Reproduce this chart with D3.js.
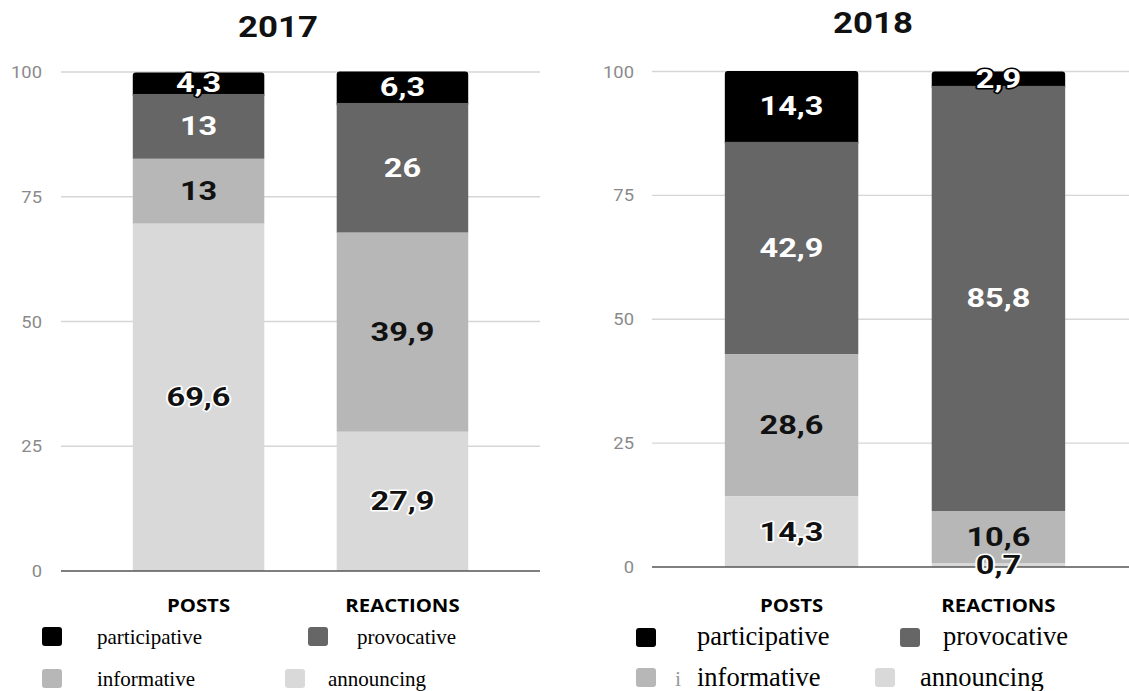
<!DOCTYPE html>
<html>
<head>
<meta charset="utf-8">
<script src="https://cdn.jsdelivr.net/npm/d3@7"></script>
<style>
  html, body { margin: 0; padding: 0; background: #fff; }
  svg { display: block; }
</style>
</head>
<body>
<svg id="chart" width="1129" height="691"></svg>
<script>
// ---------- DATA ----------
const years = ["2017", "2018"];
const categories = ["POSTS", "REACTIONS"];
const seriesKeys = ["announcing", "informative", "provocative", "participative"]; // bottom -> top
const legendKeys = ["participative", "provocative", "informative", "announcing"];
const yTicks = [0, 25, 50, 75, 100];

const announcing2017   = [69.6, 27.9];
const informative2017  = [13, 39.9];
const provocative2017  = [13, 26];
const participative2017 = [4.3, 6.3];

const announcing2018   = [14.3, 0.7];
const informative2018  = [28.6, 10.6];
const provocative2018  = [42.9, 85.8];
const participative2018 = [14.3, 2.9];

// ---------- STYLE ----------
const colors = {
  participative: "#000000",
  provocative: "#666666",
  informative: "#b7b7b7",
  announcing: "#d9d9d9"
};
const labelColors = {
  participative: "#ffffff",
  provocative: "#ffffff",
  informative: "#111111",
  announcing: "#111111"
};

function rows(a, i, p, pa) {
  return categories.map((c, k) => ({
    category: c, announcing: a[k], informative: i[k], provocative: p[k], participative: pa[k]
  }));
}
const datasets = [
  rows(announcing2017, informative2017, provocative2017, participative2017),
  rows(announcing2018, informative2018, provocative2018, participative2018)
];

const panels = [
  { band: [61, 540], gridEnd: 540, y: [571, 72], titleX: 278, titleY: 37, tickX: 42, catY: 612,
    legendFont: 21,
    legend: [ {sx: 42, sy: 627, tx: 97, ty: 644}, {sx: 308, sy: 627, tx: 357, ty: 644},
              {sx: 42, sy: 669, tx: 97, ty: 686}, {sx: 285, sy: 669, tx: 328, ty: 686} ] },
  { band: [652, 1138], gridEnd: 1129, y: [567, 71.5], titleX: 873, titleY: 33, tickX: 634, catY: 612,
    legendFont: 26.5,
    legend: [ {sx: 636, sy: 628, tx: 697, ty: 645}, {sx: 900, sy: 628, tx: 943, ty: 645},
              {sx: 636, sy: 668, tx: 697, ty: 686}, {sx: 875, sy: 668, tx: 920, ty: 686} ] }
];

const svg = d3.select("#chart");

function stretch(sel, f) {
  sel.each(function() {
    const w = this.getComputedTextLength();
    d3.select(this).attr("textLength", w * f).attr("lengthAdjust", "spacingAndGlyphs");
  });
}
const fmt = v => String(v).replace(".", ",");

panels.forEach((P, pi) => {
  const data = datasets[pi];
  const g = svg.append("g");

  const x = d3.scaleBand().domain(categories).range(P.band).paddingInner(0.355).paddingOuter(0.352);
  const y = d3.scaleLinear().domain([0, 100]).range(P.y);

  // title
  g.append("text").attr("x", P.titleX).attr("y", P.titleY)
    .attr("text-anchor", "middle")
    .style("font-family", "Roboto, 'Liberation Sans', sans-serif")
    .style("font-weight", "700").style("font-size", "30px").style("fill", "#111")
    .text(years[pi]).call(stretch, 1.16);

  // grid
  g.append("g").selectAll("line").data(yTicks.filter(t => t !== 0)).join("line")
    .attr("x1", P.band[0]).attr("x2", P.gridEnd)
    .attr("y1", d => y(d)).attr("y2", d => y(d))
    .attr("stroke", "#d6d6d6").attr("stroke-width", 1.3);

  // tick labels
  g.append("g").selectAll("text").data(yTicks).join("text")
    .attr("x", P.tickX).attr("y", d => y(d)).attr("dy", "0.36em")
    .attr("text-anchor", "end")
    .style("font-family", "Roboto, sans-serif").style("font-size", "17px").style("fill", "#8a8a8a")
    .text(d => d).call(stretch, 1.08);

  // stacked bars
  const stack = d3.stack().keys(seriesKeys);
  const layers = stack(data);
  const layersDraw = layers.slice().reverse(); // top series first so lower ones cover its extension
  const bars = g.append("g");
  layersDraw.forEach(layer => {
    const isTop = layer.key === seriesKeys[seriesKeys.length - 1];
    bars.append("g").selectAll("rect").data(layer).join("rect")
      .attr("x", d => x(d.data.category))
      .attr("width", x.bandwidth())
      .attr("y", d => y(d[1]))
      .attr("height", d => y(d[0]) - y(d[1]) + (isTop ? 4 : 0))
      .attr("rx", isTop ? 3 : 0)
      .attr("fill", colors[layer.key]);
  });

  // baseline
  g.append("line").attr("x1", P.band[0]).attr("x2", P.gridEnd)
    .attr("y1", y(0)).attr("y2", y(0))
    .attr("stroke", "#555").attr("stroke-width", 1.6);

  // value labels
  layers.forEach(layer => {
    g.append("g").selectAll("text").data(layer).join("text")
      .attr("x", d => x(d.data.category) + x.bandwidth() / 2)
      .attr("y", d => y((d[0] + d[1]) / 2))
      .attr("dy", "0.36em")
      .attr("text-anchor", "middle")
      .style("font-family", "Roboto, sans-serif").style("font-weight", "700").style("font-size", "25px")
      .style("fill", labelColors[layer.key])
      .style("stroke", layer.key === "announcing" ? "#ffffff" : colors[layer.key])
      .style("stroke-width", 3).style("paint-order", "stroke").style("stroke-linejoin", "round")
      .text(d => fmt(d.data[layer.key]))
      .call(stretch, 1.3);
  });

  // category labels
  g.append("g").selectAll("text").data(categories).join("text")
    .attr("x", d => x(d) + x.bandwidth() / 2).attr("y", P.catY)
    .attr("text-anchor", "middle")
    .style("font-family", "'Open Sans', sans-serif").style("font-weight", "700").style("font-size", "18px")
    .style("fill", "#000")
    .text(d => d).call(stretch, 1.13);

  // legend
  legendKeys.forEach((k, i) => {
    const L = P.legend[i];
    g.append("rect").attr("x", L.sx).attr("y", L.sy).attr("width", 20).attr("height", 19)
      .attr("rx", 3).attr("fill", colors[k]);
    g.append("text").attr("x", L.tx).attr("y", L.ty)
      .style("font-family", "'Liberation Serif', 'Times New Roman', serif")
      .style("font-size", P.legendFont + "px").style("fill", "#000")
      .text(k);
  });
});

// stray cropped glyph visible in the 2018 legend of the reference
svg.append("text").attr("x", 675).attr("y", 686)
  .style("font-family", "'Liberation Serif', serif").style("font-size", "22px").style("fill", "#9a9a9a")
  .text("i");
</script>
</body>
</html>
